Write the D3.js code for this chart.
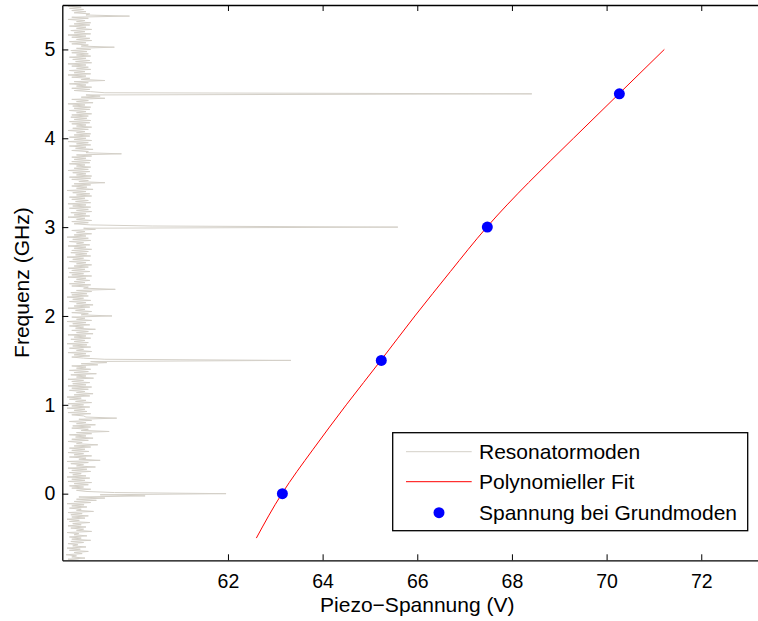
<!DOCTYPE html>
<html><head><meta charset="utf-8">
<script src="https://cdn.jsdelivr.net/npm/d3@7"></script>
<style>body{margin:0;background:#fff;} svg{display:block;font-family:"Liberation Sans",Arial,sans-serif;}</style>
</head><body><svg id="c" width="758" height="621"></svg>
<script>
// ---------- data ----------
const xTicks = [62, 64, 66, 68, 70, 72];
const yTicks = [0, 1, 2, 3, 4, 5];
// Resonator spectrum: intensity (axis units above left edge), sampled from -0.75 GHz upward in 0.0125 GHz steps
const specStart = -0.75, specStep = 0.0125;
const specIntensity = [
  0.35,0.12,0.48,0.2,0.3,0.08,0.42,0.25,0.55,0.15,0.38,0.1,0.5,0.22,0.33,0.12,0.45,0.18,0.6,0.2,
  0.4,0.15,0.52,0.25,0.35,0.1,0.62,0.3,0.45,0.18,0.5,0.12,0.4,0.22,0.58,0.15,0.36,0.1,0.48,0.2,
  0.55,0.18,0.42,0.12,0.66,0.3,0.4,0.15,0.52,0.2,0.46,0.1,0.6,0.25,0.72,0.3,0.9,0.35,1.75,0.8,
  3.46,1.1,0.5,0.3,0.6,0.2,0.45,0.15,0.55,0.25,0.62,0.12,0.48,0.2,0.58,0.1,0.5,0.22,0.4,0.15,
  0.6,0.2,0.52,0.12,0.7,0.3,0.45,0.18,0.55,0.1,0.8,0.35,0.5,0.15,0.62,0.25,0.45,0.12,0.56,0.2,
  0.48,0.15,0.6,0.25,0.75,0.3,0.42,0.12,0.55,0.2,0.65,0.28,0.5,0.15,0.62,0.3,0.99,0.4,0.55,0.2,
  0.6,0.22,0.7,0.3,0.5,0.15,0.62,0.35,1.15,0.5,0.45,0.2,0.6,0.12,0.52,0.25,0.48,0.1,0.58,0.2,
  0.45,0.12,0.62,0.28,0.5,0.15,0.4,0.1,0.58,0.25,0.65,0.3,0.48,0.15,0.55,0.2,0.62,0.12,0.5,0.22,
  0.58,0.2,0.45,0.12,0.66,0.3,0.5,0.18,0.72,0.25,0.55,0.15,0.6,0.3,0.5,0.2,0.75,0.4,0.94,0.6,
  4.83,0.9,0.45,0.2,0.58,0.25,0.5,0.12,0.62,0.3,0.45,0.15,0.6,0.22,0.52,0.1,0.55,0.25,0.48,0.18,
  0.6,0.25,0.5,0.12,0.65,0.3,0.55,0.2,0.7,0.28,0.45,0.15,0.58,0.22,0.5,0.1,0.62,0.3,0.48,0.2,
  1.05,0.4,0.55,0.2,0.62,0.28,0.48,0.12,0.58,0.25,0.65,0.3,0.5,0.15,0.6,0.22,0.45,0.1,0.55,0.2,
  0.52,0.18,0.62,0.3,1.12,0.45,0.55,0.2,0.6,0.15,0.48,0.25,0.58,0.3,0.5,0.12,0.62,0.2,0.45,0.15,
  0.58,0.2,0.48,0.12,0.55,0.25,0.62,0.3,0.5,0.15,0.58,0.22,0.45,0.1,0.6,0.28,0.52,0.18,0.55,0.2,
  0.62,0.25,0.5,0.12,0.58,0.3,0.45,0.15,0.6,0.22,0.55,0.1,0.5,0.25,0.62,0.3,0.48,0.2,0.7,0.45,
  7.09,1.9,0.6,0.25,0.55,0.2,0.62,0.3,0.48,0.12,0.58,0.25,0.5,0.18,0.62,0.3,0.55,0.15,0.6,0.22,
  0.5,0.12,0.6,0.28,0.55,0.2,0.48,0.15,0.62,0.3,0.58,0.22,0.5,0.1,0.65,0.3,0.52,0.2,0.6,0.25,
  0.9,0.35,0.55,0.2,0.6,0.15,0.62,0.3,0.5,0.22,0.58,0.12,0.55,0.25,0.6,0.3,0.48,0.15,0.58,0.2,
  0.6,0.25,0.5,0.2,0.62,0.3,1.25,0.5,0.55,0.2,0.65,0.28,0.5,0.15,0.6,0.3,0.55,0.12,0.62,0.25,
  0.5,0.15,0.58,0.25,0.6,0.3,0.48,0.12,0.55,0.22,0.62,0.3,0.5,0.2,0.58,0.15,0.6,0.25,0.52,0.18,
  0.55,0.2,0.62,0.3,0.5,0.15,0.58,0.25,0.6,0.22,0.48,0.12,0.65,0.3,0.55,0.2,0.9,0.4,0.8,0.5,
  9.92,0.9,0.6,0.25,0.58,0.2,0.62,0.3,0.5,0.15,0.55,0.25,0.9,0.4,0.58,0.2,0.5,0.12,0.6,0.25,
  0.48,0.15,0.6,0.3,0.55,0.2,0.5,0.12,0.62,0.28,0.58,0.22,0.5,0.15,0.6,0.3,0.55,0.2,0.52,0.18,
  0.6,0.3,1.1,0.4,0.55,0.2,0.5,0.15,0.62,0.3,0.58,0.2,0.5,0.12,0.6,0.25,0.48,0.18,0.62,0.3,
  0.5,0.15,0.58,0.25,0.6,0.3,0.48,0.12,0.55,0.2,1.42,0.5,0.58,0.25,0.5,0.2,0.45,0.15,0.4,0.12,
  0.3
];
// Polynomial fit curve
const fitFreq    = [-0.5, 0, 0.5, 1.0, 1.5, 2.0, 2.5, 3.0, 3.5, 4.0, 4.5, 5.0];
const fitVoltage = [62.6, 63.14, 63.8, 64.5, 65.23, 65.95, 66.7, 67.47, 68.35, 69.3, 70.26, 71.22];
// Measured voltages at fundamental modes
const modeFreq    = [0, 1.5, 3.0, 4.5];
const modeVoltage = [63.15, 65.24, 67.48, 70.27];
const legendLabels = ["Resonatormoden", "Polynomieller Fit", "Spannung bei Grundmoden"];

// ---------- layout ----------
const svg = d3.select("#c");
const FONT = "'Liberation Sans', Arial, Helvetica, sans-serif";
const L = 62.3, T = 5, B = 560.3;
const x = d3.scaleLinear().domain([58.5, 73.5]).range([L, L + 15 * 47.33]);
const y = d3.scaleLinear().domain([-0.75, 5.5]).range([B, T]);
const R = x(73.5);

svg.append("defs").append("clipPath").attr("id", "clip")
  .append("rect").attr("x", L).attr("y", T).attr("width", R - L).attr("height", B - T);

const plot = svg.append("g").attr("clip-path", "url(#clip)");

// spectrum
const spec = specIntensity.map((v, i) => [58.5 + v, specStart + i * specStep]);
plot.append("path").datum(spec)
  .attr("d", d3.line().x(d => x(d[0])).y(d => y(d[1])))
  .attr("fill", "none").attr("stroke", "#d4d0c8").attr("stroke-width", 1);

// fit
const fit = fitFreq.map((f, i) => [fitVoltage[i], f]);
plot.append("path").datum(fit)
  .attr("d", d3.line().x(d => x(d[0])).y(d => y(d[1])).curve(d3.curveNatural))
  .attr("fill", "none").attr("stroke", "#ff0000").attr("stroke-width", 1);

// points
plot.selectAll("circle.m").data(modeFreq).join("circle").attr("class", "m")
  .attr("cx", (d, i) => x(modeVoltage[i])).attr("cy", d => y(d))
  .attr("r", 5.5).attr("fill", "#0000ff");

// axes
const tickLen = 6;
const axB = svg.append("g").attr("transform", `translate(0,${B})`)
  .call(d3.axisBottom(x).tickValues(xTicks).tickSizeInner(-tickLen).tickSizeOuter(0).tickPadding(14));
const axT = svg.append("g").attr("transform", `translate(0,${T})`)
  .call(d3.axisTop(x).tickValues(xTicks).tickSizeInner(-tickLen).tickSizeOuter(0).tickFormat(""));
const axL = svg.append("g").attr("transform", `translate(${L},0)`)
  .call(d3.axisLeft(y).tickValues(yTicks).tickFormat(d3.format("d"))
    .tickSizeInner(-tickLen).tickSizeOuter(0).tickPadding(7));
[axB, axT, axL].forEach(a => {
  a.selectAll(".domain").attr("stroke", "#000").attr("stroke-width", 1.3);
  a.selectAll(".tick line").attr("stroke", "#000").attr("stroke-width", 1);
  a.selectAll("text").attr("font-size", 19.5).attr("fill", "#000").attr("font-family", FONT);
});

// axis labels
svg.append("text").attr("x", x(66)).attr("y", 612).attr("text-anchor", "middle")
  .attr("font-family", FONT).attr("font-size", 21).text("Piezo\u2212Spannung (V)");
svg.append("text").attr("transform", `translate(29,${(T + B) / 2}) rotate(-90)`)
  .attr("text-anchor", "middle").attr("font-family", FONT).attr("font-size", 21).text("Frequenz (GHz)");

// legend
const lg = svg.append("g");
lg.append("rect").attr("x", 392.7).attr("y", 432.7).attr("width", 355).attr("height", 98)
  .attr("fill", "#fff").attr("stroke", "#000").attr("stroke-width", 1.3);
const rows = [451.7, 481.7, 512.7];
lg.append("line").attr("x1", 406).attr("x2", 471.7).attr("y1", rows[0]).attr("y2", rows[0])
  .attr("stroke", "#d4d0c8").attr("stroke-width", 1);
lg.append("line").attr("x1", 406).attr("x2", 471.7).attr("y1", rows[1]).attr("y2", rows[1])
  .attr("stroke", "#ff0000").attr("stroke-width", 1);
lg.append("circle").attr("cx", 439).attr("cy", rows[2]).attr("r", 5.5).attr("fill", "#0000ff");
legendLabels.forEach((t, i) => {
  lg.append("text").attr("x", 479).attr("y", rows[i]).attr("dy", "0.35em")
    .attr("font-family", FONT).attr("font-size", 21).text(t);
});
</script></body></html>
